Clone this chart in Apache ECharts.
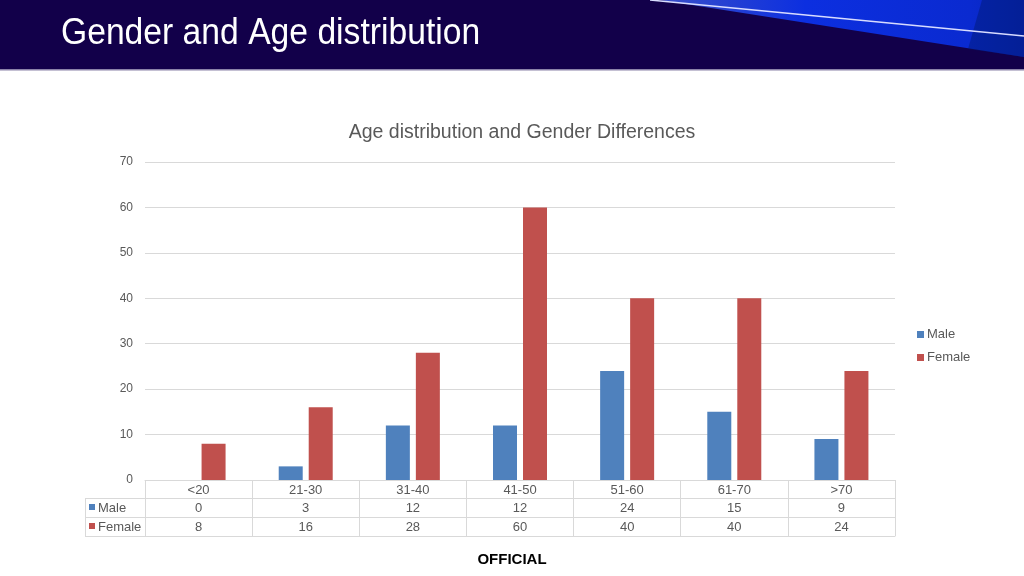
<!DOCTYPE html>
<html>
<head>
<meta charset="utf-8">
<script src="https://cdn.jsdelivr.net/npm/echarts@6/dist/echarts.min.js"></script>
<style>
html,body{margin:0;padding:0;background:#fff;}
#c{width:1024px;height:576px;}
</style>
</head>
<body>
<div id="c"></div>
<script>
const categories = ['<20', '21-30', '31-40', '41-50', '51-60', '61-70', '>70'];
const seriesNames = ['Male', 'Female'];
const maleValues = [0, 3, 12, 12, 24, 15, 9];
const femaleValues = [8, 16, 28, 60, 40, 40, 24];
const seriesColors = ['#4F81BD', '#C0504D'];
const yTicks = { min: 0, max: 70, interval: 10 };

const FONT = "'Liberation Sans', Arial, sans-serif";
const TXT = '#595959';
const LINE = '#d9d9d9';

const chart = echarts.init(document.getElementById('c'), null, { renderer: 'canvas' });

function tableAxis(data, offset, showTicks) {
  return {
    type: 'category',
    gridIndex: 0,
    position: 'bottom',
    offset: offset,
    data: data,
    boundaryGap: true,
    axisLine: { show: true, lineStyle: { color: LINE, width: 1 } },
    axisTick: { show: showTicks, interval: 0, length: 19, lineStyle: { color: LINE, width: 1 } },
    axisLabel: { show: true, interval: 0, margin: 4, color: TXT, fontSize: 13, fontFamily: FONT },
    splitLine: { show: false }
  };
}

const rowValues = [maleValues, femaleValues];
const leftCells = [];
const rowTop = [498, 517];
rowValues.forEach((vals, i) => {
  const y = rowTop[i];
  leftCells.push({ type: 'rect', shape: { x: 89, y: y + 6, width: 6, height: 6 }, style: { fill: seriesColors[i] } });
  leftCells.push({ type: 'text', x: 98, y: y + 10, style: { text: seriesNames[i], fill: TXT, font: '13px ' + FONT, textVerticalAlign: 'middle' } });
});
[498, 517, 536].forEach(y => {
  leftCells.push({ type: 'line', shape: { x1: 85, y1: y + 0.5, x2: 145, y2: y + 0.5 }, style: { stroke: LINE, lineWidth: 1 } });
});
leftCells.push({ type: 'line', shape: { x1: 85.5, y1: 498, x2: 85.5, y2: 536 }, style: { stroke: LINE, lineWidth: 1 } });

const option = {
  backgroundColor: '#ffffff',
  animation: false,
  textStyle: { fontFamily: FONT },
  grid: { left: 145, right: 129, top: 162, bottom: 96, containLabel: false },
  legend: {
    orient: 'vertical',
    left: 912,
    top: 323,
    itemWidth: 7,
    itemHeight: 7,
    itemGap: 10,
    icon: 'rect',
    data: seriesNames,
    textStyle: { color: TXT, fontSize: 13, fontFamily: FONT, padding: [0, 0, 0, -2] }
  },
  xAxis: [
    tableAxis(categories, 0, true),
    tableAxis(maleValues.map(String), 18, true),
    tableAxis(femaleValues.map(String), 37, true),
    Object.assign(tableAxis(categories, 56, false), { axisLabel: { show: false } })
  ],
  yAxis: {
    type: 'value',
    min: yTicks.min,
    max: yTicks.max,
    interval: yTicks.interval,
    axisLine: { show: false },
    axisTick: { show: false },
    axisLabel: { color: TXT, fontSize: 12, fontFamily: FONT, margin: 12 },
    splitLine: { show: true, lineStyle: { color: LINE, width: 1 } }
  },
  series: [
    { name: seriesNames[0], type: 'bar', xAxisIndex: 0, data: maleValues, barWidth: 24, barGap: '25%', itemStyle: { color: seriesColors[0] } },
    { name: seriesNames[1], type: 'bar', xAxisIndex: 0, data: femaleValues, barWidth: 24, barGap: '25%', itemStyle: { color: seriesColors[1] } }
  ],
  graphic: [
    { type: 'rect', shape: { x: 0, y: 0, width: 1024, height: 69 }, style: { fill: '#12004a' }, z: 0 },
    { type: 'rect', shape: { x: 0, y: 69, width: 1024, height: 1.5 }, style: { fill: '#8a82a8' }, z: 0 },
    { type: 'polygon', shape: { points: [[660, 0], [1024, 0], [1024, 57]] },
      style: { fill: new echarts.graphic.LinearGradient(0, 0, 1, 0, [
        { offset: 0, color: '#3a4fc8' }, { offset: 0.4, color: '#0c2fe0' }, { offset: 0.85, color: '#0a2ad0' }, { offset: 1, color: '#0826b8' }]) }, z: 1 },
    { type: 'polygon', shape: { points: [[982, 0], [1024, 0], [1024, 57], [968, 49]] }, style: { fill: 'rgba(0,25,110,0.45)' }, z: 2 },
    { type: 'line', shape: { x1: 650, y1: 0, x2: 1024, y2: 36 }, style: { stroke: '#d8dcff', lineWidth: 1.5 }, z: 3 },
    { type: 'text', x: 61, y: 34, scaleX: 0.935, z: 4, style: { text: 'Gender and Age distribution', fill: '#ffffff', font: '36px ' + FONT, textVerticalAlign: 'middle' } },
    { type: 'text', x: 522, y: 133, style: { text: 'Age distribution and Gender Differences', fill: TXT, font: '19.5px ' + FONT, textAlign: 'center', textVerticalAlign: 'middle' } },
    { type: 'text', x: 512, y: 560, style: { text: 'OFFICIAL', fill: '#000000', font: 'bold 15px ' + FONT, textAlign: 'center', textVerticalAlign: 'middle' } }
  ].concat(leftCells)
};

chart.setOption(option);
</script>
</body>
</html>
